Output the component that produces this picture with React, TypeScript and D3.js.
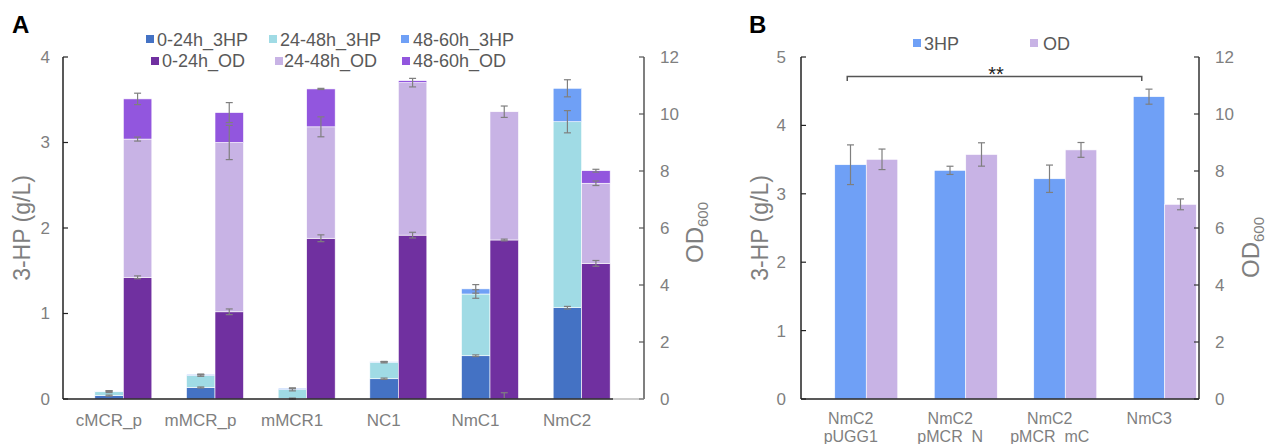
import React from 'react';
import * as d3 from 'd3';

// ---------- Panel A data ----------
const catsA = ['cMCR_p', 'mMCR_p', 'mMCR1', 'NC1', 'NmC1', 'NmC2'];
// 3-HP (g/L) increments per period
const hp0_24 = [0.04, 0.135, 0.005, 0.237, 0.506, 1.068];
const hp24_48 = [0.045, 0.14, 0.105, 0.193, 0.722, 2.175];
const hp48_60 = [0.008, 0.012, 0.015, 0.005, 0.06, 0.391];
const hpErr0_24 = [0.006, 0.006, 0.006, 0.008, 0.01, 0.015];
const hpErr24_48 = [0.01, 0.01, 0.015, 0.008, 0.05, 0.13];
const hpErr48_60 = [0.005, 0.005, 0.005, 0.004, 0.05, 0.1];
// OD600 increments per period
const od0_24 = [4.27, 3.06, 5.64, 5.75, 5.58, 4.76];
const od24_48 = [4.85, 5.94, 3.91, 5.35, 4.5, 2.81];
const od48_60 = [1.41, 1.05, 1.33, 0.07, 0, 0.44];
const odErr0_24 = [0.05, 0.1, 0.12, 0.1, 0.03, 0.1];
const odErr24_48 = [0.07, 0.6, 0.35, 0.15, 0.2, 0.08];
const odErr48_60 = [0.2, 0.35, 0.02, 0.0, 0.0, 0.05];
// stray error bar drawn at the base of NmC1 OD bar
const strayErrCat = 'NmC1';
const strayErrTop = 0.22;

const ticksA = [0, 1, 2, 3, 4];
const ticksA2 = [0, 2, 4, 6, 8, 10, 12];

// ---------- Panel B data ----------
const catsB = [['NmC2', 'pUGG1'], ['NmC2', 'pMCR_N'], ['NmC2', 'pMCR_mC'], ['NmC3']];
const hpB = [3.425, 3.343, 3.22, 4.42];
const hpBErr = [0.29, 0.06, 0.2, 0.11];
const odB = [8.41, 8.58, 8.74, 6.83];
const odBErr = [0.36, 0.41, 0.26, 0.19];
const ticksB = [0, 1, 2, 3, 4, 5];
const ticksB2 = [0, 2, 4, 6, 8, 10, 12];

// ---------- colours ----------
const C_hp0 = '#4472C4';
const C_hp1 = '#A0DBE5';
const C_hp2 = '#6FA0F6';
const C_od0 = '#7030A0';
const C_od1 = '#C8B3E5';
const C_od2 = '#9256DE';

const FONT = '"Liberation Sans", Arial, sans-serif';
const TICK = '#7f7f7f';
const LEG = '#595959';
const ERR = '#7f7f7f';

const legendA = [
  { label: '0-24h_3HP', color: C_hp0, mx: 146, tx: 157, row: 0 },
  { label: '24-48h_3HP', color: C_hp1, mx: 269, tx: 280, row: 0 },
  { label: '48-60h_3HP', color: C_hp2, mx: 401, tx: 413, row: 0 },
  { label: '0-24h_OD', color: C_od0, mx: 151, tx: 162, row: 1 },
  { label: '24-48h_OD', color: C_od1, mx: 275, tx: 284, row: 1 },
  { label: '48-60h_OD', color: C_od2, mx: 402, tx: 413, row: 1 },
];

function ErrBar({ x, y0, y1, cap = 7 }: { x: number; y0: number; y1: number; cap?: number }) {
  return (
    <g stroke={ERR} strokeWidth={1.2}>
      <line x1={x} x2={x} y1={y0} y2={y1} />
      <line x1={x - cap / 2} x2={x + cap / 2} y1={y0} y2={y0} />
      <line x1={x - cap / 2} x2={x + cap / 2} y1={y1} y2={y1} />
    </g>
  );
}

export default function App() {
  // ---------- Panel A scales ----------
  const xA = d3.scaleBand<string>().domain(catsA).range([63, 613]);
  const yA = d3.scaleLinear().domain([0, 4]).range([399, 57]);
  const yA2 = d3.scaleLinear().domain([0, 12]).range([399, 57]);
  const bwA = 28.5;
  const offA = 14.5;
  const cA = (c: string) => (xA(c) as number) + xA.bandwidth() / 2;

  const hpTable = catsA.map((c, i) => ({ cat: c, s0: hp0_24[i], s1: hp24_48[i], s2: hp48_60[i] }));
  const odTable = catsA.map((c, i) => ({ cat: c, s0: od0_24[i], s1: od24_48[i], s2: od48_60[i] }));
  const keys = ['s0', 's1', 's2'];
  const hpStack = d3.stack<any>().keys(keys)(hpTable);
  const odStack = d3.stack<any>().keys(keys)(odTable);
  const hpColors = [C_hp0, C_hp1, C_hp2];
  const odColors = [C_od0, C_od1, C_od2];
  const hpErrs = [hpErr0_24, hpErr24_48, hpErr48_60];
  const odErrs = [odErr0_24, odErr24_48, odErr48_60];

  // ---------- Panel B scales ----------
  const labB = catsB.map((c) => c.join('|'));
  const xB = d3.scaleBand<string>().domain(labB).range([801, 1199]);
  const yB = d3.scaleLinear().domain([0, 5]).range([399, 57]);
  const yB2 = d3.scaleLinear().domain([0, 12]).range([399, 57]);
  const bwB = 31.5;
  const offB = 15.5;
  const cB = (c: string) => (xB(c) as number) + xB.bandwidth() / 2;

  return (
    <svg
      width={1266}
      height={444}
      style={{ position: 'absolute', left: 0, top: 0, display: 'block', background: '#fff' }}
      fontFamily={FONT}
    >
      <rect x={0} y={0} width={1266} height={444} fill="#fff" />

      {/* ================= Panel A ================= */}
      <text x={12} y={33} fontSize={24} fontWeight="bold" fill="#000">A</text>

      {/* legend */}
      {legendA.map((l) => (
        <g key={l.label}>
          <rect x={l.mx} y={l.row === 0 ? 35 : 57} width={8} height={8} fill={l.color} />
          <text x={l.tx} y={l.row === 0 ? 46 : 67} fontSize={18} fill={LEG}>{l.label}</text>
        </g>
      ))}

      {/* 3HP stacked bars */}
      {hpStack.map((layer, li) =>
        layer.map((d, i) => {
          const x = cA(catsA[i]) + offA - bwA;
          return (
            <rect
              key={`hp${li}-${i}`}
              x={x}
              y={yA(d[1])}
              width={bwA}
              height={Math.max(0, yA(d[0]) - yA(d[1]))}
              fill={hpColors[li]}
              stroke="#ffffff"
              strokeWidth={0.6}
            />
          );
        })
      )}
      {/* OD stacked bars */}
      {odStack.map((layer, li) =>
        layer.map((d, i) => {
          const x = cA(catsA[i]) + offA;
          return (
            <rect
              key={`od${li}-${i}`}
              x={x}
              y={yA2(d[1])}
              width={bwA}
              height={Math.max(0, yA2(d[0]) - yA2(d[1]))}
              fill={odColors[li]}
              stroke="#ffffff"
              strokeWidth={0.6}
            />
          );
        })
      )}
      {/* error bars A */}
      {hpStack.map((layer, li) =>
        layer.map((d, i) => {
          const x = cA(catsA[i]) + offA - bwA / 2;
          const e = hpErrs[li][i];
          if (e <= 0) return null;
          return <ErrBar key={`hpe${li}-${i}`} x={x} y0={yA(d[1] + e)} y1={yA(d[1] - e)} />;
        })
      )}
      {odStack.map((layer, li) =>
        layer.map((d, i) => {
          const x = cA(catsA[i]) + offA + bwA / 2;
          const e = odErrs[li][i];
          if (e <= 0) return null;
          return <ErrBar key={`ode${li}-${i}`} x={x} y0={yA2(d[1] + e)} y1={yA2(d[1] - e)} />;
        })
      )}
      <g stroke={ERR} strokeWidth={1.2}>
        <line
          x1={cA(strayErrCat) + offA + bwA / 2}
          x2={cA(strayErrCat) + offA + bwA / 2}
          y1={yA2(0)}
          y2={yA2(strayErrTop)}
        />
        <line
          x1={cA(strayErrCat) + offA + bwA / 2 - 3.5}
          x2={cA(strayErrCat) + offA + bwA / 2 + 3.5}
          y1={yA2(strayErrTop)}
          y2={yA2(strayErrTop)}
        />
      </g>

      {/* axes A */}
      <line x1={63} x2={63} y1={yA(4)} y2={yA(0)} stroke="#222" strokeWidth={1.5} />
      {ticksA.map((t) => (
        <g key={`ta${t}`}>
          <line x1={63} x2={68} y1={yA(t)} y2={yA(t)} stroke="#222" strokeWidth={1.2} />
          <text x={50} y={yA(t)} dy="0.35em" textAnchor="end" fontSize={17} fill={TICK}>{t}</text>
        </g>
      ))}
      <line x1={644} x2={644} y1={yA2(12)} y2={yA2(0)} stroke="#555" strokeWidth={1.5} />
      {ticksA2.map((t) => (
        <g key={`ta2${t}`}>
          <line x1={639} x2={644} y1={yA2(t)} y2={yA2(t)} stroke="#555" strokeWidth={1.2} />
          <text x={660} y={yA2(t)} dy="0.35em" textAnchor="start" fontSize={17} fill={TICK}>{t}</text>
        </g>
      ))}
      <line x1={613} x2={644} y1={399} y2={399} stroke="#999" strokeWidth={1} />
      <line x1={63} x2={613} y1={399} y2={399} stroke="#222" strokeWidth={1.5} />
      {catsA.map((c) => (
        <text key={`ca${c}`} x={cA(c)} y={426} textAnchor="middle" fontSize={17} fill={TICK}>{c}</text>
      ))}
      <text transform="translate(30,228) rotate(-90)" textAnchor="middle" fontSize={23} fill={TICK}>3-HP (g/L)</text>
      <text transform="translate(703,263) rotate(-90)" textAnchor="start" fontSize={24} fill={TICK}>
        OD<tspan fontSize={15} dy={5}>600</tspan>
      </text>

      {/* ================= Panel B ================= */}
      <text x={749} y={33} fontSize={24} fontWeight="bold" fill="#000">B</text>
      <rect x={913} y={39} width={8} height={8} fill={C_hp2} />
      <text x={924} y={50} fontSize={18} fill={LEG}>3HP</text>
      <rect x={1030} y={39} width={8} height={8} fill={C_od1} />
      <text x={1043} y={50} fontSize={18} fill={LEG}>OD</text>

      {labB.map((c, i) => {
        const x0 = cB(c) + offB - bwB;
        const x1 = cB(c) + offB;
        return (
          <g key={`bb${i}`}>
            <rect x={x0} y={yB(hpB[i])} width={bwB} height={yB(0) - yB(hpB[i])} fill={C_hp2} stroke="#fff" strokeWidth={0.6} />
            <rect x={x1} y={yB2(odB[i])} width={bwB} height={yB2(0) - yB2(odB[i])} fill={C_od1} stroke="#fff" strokeWidth={0.6} />
            <ErrBar x={x0 + bwB / 2} y0={yB(hpB[i] + hpBErr[i])} y1={yB(hpB[i] - hpBErr[i])} />
            <ErrBar x={x1 + bwB / 2} y0={yB2(odB[i] + odBErr[i])} y1={yB2(odB[i] - odBErr[i])} />
          </g>
        );
      })}

      {/* significance bracket */}
      <path
        d={`M${cB(labB[0]) - 3.5},81 V76.5 H${cB(labB[3]) - 7.5} V81`}
        fill="none"
        stroke="#555"
        strokeWidth={1.5}
      />
      <text x={(cB(labB[0]) + cB(labB[3])) / 2 - 4} y={81} textAnchor="middle" fontSize={20} fill="#222">**</text>

      {/* axes B */}
      <line x1={801} x2={801} y1={yB(5)} y2={yB(0)} stroke="#222" strokeWidth={1.5} />
      {ticksB.map((t) => (
        <g key={`tb${t}`}>
          <line x1={801} x2={806} y1={yB(t)} y2={yB(t)} stroke="#222" strokeWidth={1.2} />
          <text x={786} y={yB(t)} dy="0.35em" textAnchor="end" fontSize={17} fill={TICK}>{t}</text>
        </g>
      ))}
      <line x1={1199} x2={1199} y1={yB2(12)} y2={yB2(0)} stroke="#333" strokeWidth={1.5} />
      {ticksB2.map((t) => (
        <g key={`tb2${t}`}>
          <line x1={1194} x2={1199} y1={yB2(t)} y2={yB2(t)} stroke="#333" strokeWidth={1.2} />
          <text x={1215} y={yB2(t)} dy="0.35em" textAnchor="start" fontSize={17} fill={TICK}>{t}</text>
        </g>
      ))}
      <line x1={801} x2={1199} y1={399} y2={399} stroke="#222" strokeWidth={1.5} />
      {catsB.map((lines, i) => (
        <text key={`cb${i}`} x={cB(labB[i])} y={424} textAnchor="middle" fontSize={16} fill={TICK}>
          {lines.map((ln, j) => (
            <tspan key={j} x={cB(labB[i])} dy={j === 0 ? 0 : 18}>{ln}</tspan>
          ))}
        </text>
      ))}
      <text transform="translate(768,228) rotate(-90)" textAnchor="middle" fontSize={23} fill={TICK}>3-HP (g/L)</text>
      <text transform="translate(1259,278) rotate(-90)" textAnchor="start" fontSize={24} fill={TICK}>
        OD<tspan fontSize={15} dy={5}>600</tspan>
      </text>
    </svg>
  );
}
